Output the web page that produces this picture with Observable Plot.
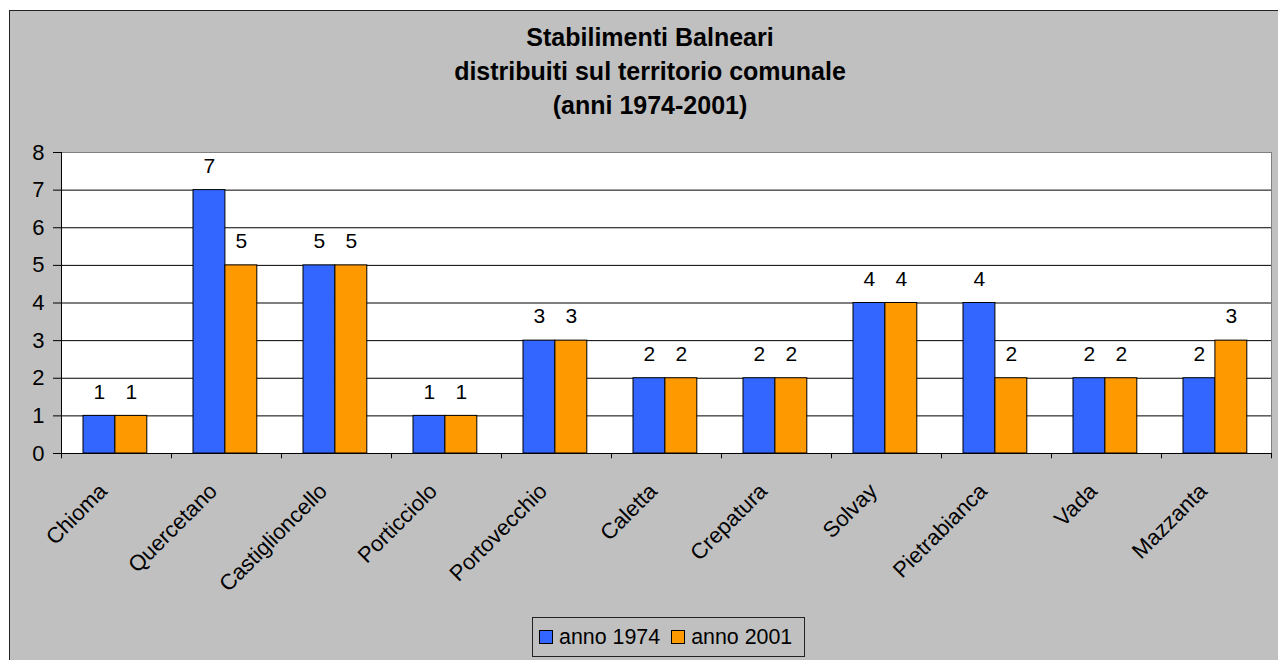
<!DOCTYPE html>
<html>
<head>
<meta charset="utf-8">
<script src="https://cdn.jsdelivr.net/npm/d3@7"></script>
<script src="https://cdn.jsdelivr.net/npm/@observablehq/plot@0.6"></script>
<style>
  html, body { margin: 0; padding: 0; background: #fff; width: 1278px; height: 660px; overflow: hidden; }
  body { font-family: "Liberation Sans", Arial, sans-serif; position: relative; }
  #panel { position: absolute; left: 9px; top: 10px; width: 1290px; height: 670px; background: #C0C0C0; border: 1px solid #222; box-sizing: border-box; }
  #title { position: absolute; left: 0; top: 20px; width: 1300px; text-align: center; font-weight: bold; font-size: 25px; line-height: 34px; color: #000; }
  #chart { position: absolute; left: 0; top: 130px; }
  #legend { position: absolute; left: 532px; top: 617px; width: 273px; height: 40px; box-sizing: border-box; border: 1px solid #222; background: #C0C0C0; display: flex; align-items: center; padding-left: 6px; font-size: 21.4px; color: #000; white-space: nowrap; overflow: visible; }
  .sw { display: inline-block; width: 12px; height: 12px; border: 1px solid #000; margin-right: 6px; flex: none; }
  .item { display: flex; align-items: center; margin-right: 11px; flex: none; white-space: nowrap; }
</style>
</head>
<body>
<div id="panel"></div>
<div id="title">Stabilimenti Balneari<br>distribuiti sul territorio comunale<br>(anni 1974-2001)</div>
<div id="chart"></div>
<div id="legend"></div>
<script>
const categories = ["Chioma","Quercetano","Castiglioncello","Porticciolo","Portovecchio","Caletta","Crepatura","Solvay","Pietrabianca","Vada","Mazzanta"];
const values1974 = [1,7,5,1,3,2,2,4,4,2,2];
const values2001 = [1,5,5,1,3,2,2,4,2,2,3];
const seriesNames = ["anno 1974", "anno 2001"];
const seriesColors = ["#3366FF", "#FF9900"];
const yTicks = [0,1,2,3,4,5,6,7,8];

const W = 1278, H = 480, ML = 61, MR = 7, MT = 22, MB = 157;
const bw = (W - ML - MR) / categories.length;

const rows = categories.map((c, i) => ({cat: c, a: values1974[i], b: values2001[i]}));
const last = categories[categories.length - 1];

const chart = Plot.plot({
  width: W, height: H,
  marginLeft: ML, marginRight: MR, marginTop: MT, marginBottom: MB,
  style: {background: "transparent", fontFamily: "'Liberation Sans', Arial, sans-serif", fontSize: "22px", color: "#000"},
  x: {domain: categories, padding: 0, axis: null},
  y: {domain: [0, 8], ticks: yTicks, tickSize: 8, tickPadding: 9, label: null, tickFormat: d => d},
  marks: [
    Plot.frame({fill: "white", stroke: "#808080"}),
    Plot.ruleY(yTicks.filter(t => t > 0 && t < 8), {stroke: "#000"}),
    Plot.barY(rows, {x: "cat", y: "a", fill: seriesColors[0], stroke: "#000", strokeWidth: 1, insetLeft: bw * 0.2, insetRight: bw * 0.51}),
    Plot.barY(rows, {x: "cat", y: "b", fill: seriesColors[1], stroke: "#000", strokeWidth: 1, insetLeft: bw * 0.49, insetRight: bw * 0.22}),
    Plot.ruleY([0], {stroke: "#000"}),
    Plot.ruleX([categories[0]], {x: d => d, dx: -bw / 2, y1: 8, y2: -0.14, stroke: "#000"}),
    Plot.ruleX(categories.slice(1), {x: d => d, dx: -bw / 2, y1: 0, y2: -0.14, stroke: "#000"}),
    Plot.ruleX([last], {x: d => d, dx: bw / 2, y1: 0, y2: -0.14, stroke: "#000"}),
    Plot.text(rows, {x: "cat", y: "a", text: d => String(d.a), dx: -bw * 0.155, dy: -24, fontSize: 21, fill: "#000"}),
    Plot.text(rows, {x: "cat", y: "b", text: d => String(d.b), dx: bw * 0.135, dy: -24, fontSize: 21, fill: "#000"}),
    Plot.text(categories, {x: d => d, y: 0, text: d => d, rotate: -45, textAnchor: "end", dx: -13, dy: 34, fontSize: 22, fill: "#000"})
  ]
});
document.getElementById("chart").appendChild(chart);

const legend = document.getElementById("legend");
seriesNames.forEach((n, i) => {
  const item = document.createElement("span");
  item.className = "item";
  const sw = document.createElement("span");
  sw.className = "sw";
  sw.style.background = seriesColors[i];
  item.appendChild(sw);
  item.appendChild(document.createTextNode(n));
  legend.appendChild(item);
});
</script>
</body>
</html>
